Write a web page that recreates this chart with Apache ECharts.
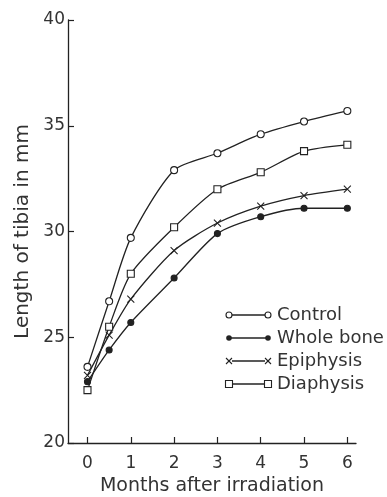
<!DOCTYPE html>
<html>
<head>
<meta charset="utf-8">
<script src="https://cdn.jsdelivr.net/npm/echarts@6/dist/echarts.min.js"></script>
<style>
html, body { margin: 0; padding: 0; background: #fff; }
#chart { width: 387px; height: 497px; }
</style>
</head>
<body>
<div id="chart"></div>
<script>
// data (months after irradiation, tibia length mm)
var months = [0, 0.5, 1, 2, 3, 4, 5, 6];
var control = [23.6, 26.7, 29.7, 32.9, 33.7, 34.6, 35.2, 35.7];
var wholeBone = [22.9, 24.4, 25.7, 27.8, 29.9, 30.7, 31.1, 31.1];
var epiphysis = [23.2, 25.1, 26.8, 29.1, 30.4, 31.2, 31.7, 32.0];
var diaphysis = [22.5, 25.5, 28.0, 30.2, 32.0, 32.8, 33.8, 34.1];
var xTicks = [0, 1, 2, 3, 4, 5, 6];
var seriesNames = ['Control', 'Whole bone', 'Epiphysis', 'Diaphysis'];

window.onload = function () {
    var myChart = echarts.init(document.getElementById('chart'));
    var ink = '#222';
    var font = 'DejaVu Sans';

    function pairs(ys) {
        return months.map(function (m, i) { return [m, ys[i]]; });
    }

    // marker styles for each series
    var marks = [
        { symbol: 'circle', size: 7, fill: '#fff' },
        { symbol: 'circle', size: 6, fill: ink },
        { symbol: 'path://M0,0L10,10M10,0L0,10', size: 7, fill: 'none' },
        { symbol: 'rect', size: 7, fill: '#fff' }
    ];
    var allData = [control, wholeBone, epiphysis, diaphysis];

    var series = allData.map(function (ys, i) {
        return {
            name: seriesNames[i],
            type: 'line',
            smooth: 0.25,
            data: pairs(ys),
            symbol: marks[i].symbol,
            symbolSize: marks[i].size,
            showAllSymbol: true,
            lineStyle: { color: ink, width: 1.3 },
            itemStyle: { color: marks[i].fill, borderColor: ink, borderWidth: 1.1 },
            z: 3
        };
    });

    // legend drawn by hand: line with marker at both ends
    var legendItems = [];
    seriesNames.forEach(function (name, i) {
        var y = 315 + i * 23;
        var x0 = 229, x1 = 268;
        legendItems.push({ type: 'line', shape: { x1: x0, y1: y, x2: x1, y2: y }, style: { stroke: ink, lineWidth: 1.3 } });
        [x0, x1].forEach(function (x) {
            if (i === 0) {
                legendItems.push({ type: 'circle', shape: { cx: x, cy: y, r: 3 }, style: { fill: '#fff', stroke: ink, lineWidth: 1.1 }, z: 10 });
            } else if (i === 1) {
                legendItems.push({ type: 'circle', shape: { cx: x, cy: y, r: 2.8 }, style: { fill: ink }, z: 10 });
            } else if (i === 2) {
                legendItems.push({ type: 'rect', shape: { x: x - 3, y: y - 3, width: 6, height: 6 }, style: { fill: '#fff' }, z: 9 });
                legendItems.push({ type: 'polyline', shape: { points: [[x - 3, y - 3], [x + 3, y + 3]] }, style: { stroke: ink, lineWidth: 1.1 }, z: 10 });
                legendItems.push({ type: 'polyline', shape: { points: [[x + 3, y - 3], [x - 3, y + 3]] }, style: { stroke: ink, lineWidth: 1.1 }, z: 10 });
            } else {
                legendItems.push({ type: 'rect', shape: { x: x - 3.5, y: y - 3.5, width: 7, height: 7 }, style: { fill: '#fff', stroke: ink, lineWidth: 1.1 }, z: 10 });
            }
        });
        legendItems.push({
            type: 'text', x: 277, y: y,
            style: { text: name, font: '18px "' + font + '"', fill: '#333', verticalAlign: 'middle' }
        });
    });

    var option = {
        backgroundColor: '#fff',
        animation: false,
        grid: { left: 68, right: 31, top: 20, bottom: 54, outerBoundsMode: 'none' },
        xAxis: {
            type: 'value',
            min: -0.45,
            max: 6.2,
            name: 'Months after irradiation',
            nameLocation: 'middle',
            nameGap: 34,
            nameTextStyle: { fontFamily: font, fontSize: 19, color: '#333' },
            axisLine: { onZero: false, lineStyle: { color: ink, width: 1.3 } },
            axisTick: { inside: true, length: 6, customValues: xTicks, lineStyle: { color: ink, width: 1.2 } },
            axisLabel: { customValues: xTicks, fontFamily: font, fontSize: 17, color: '#333', margin: 12 },
            splitLine: { show: false }
        },
        yAxis: {
            type: 'value',
            min: 20,
            max: 40,
            interval: 5,
            name: 'Length of tibia in mm',
            nameLocation: 'middle',
            nameGap: 20,
            nameTextStyle: { fontFamily: font, fontSize: 20, color: '#333' },
            axisLine: { show: true, onZero: false, lineStyle: { color: ink, width: 1.3 } },
            axisTick: { show: true, inside: true, length: 6, lineStyle: { color: ink, width: 1.2 } },
            axisLabel: { fontFamily: font, fontSize: 17, color: '#333', margin: 3 },
            splitLine: { show: false }
        },
        graphic: legendItems,
        series: series
    };

    myChart.setOption(option);
};
</script>
</body>
</html>
